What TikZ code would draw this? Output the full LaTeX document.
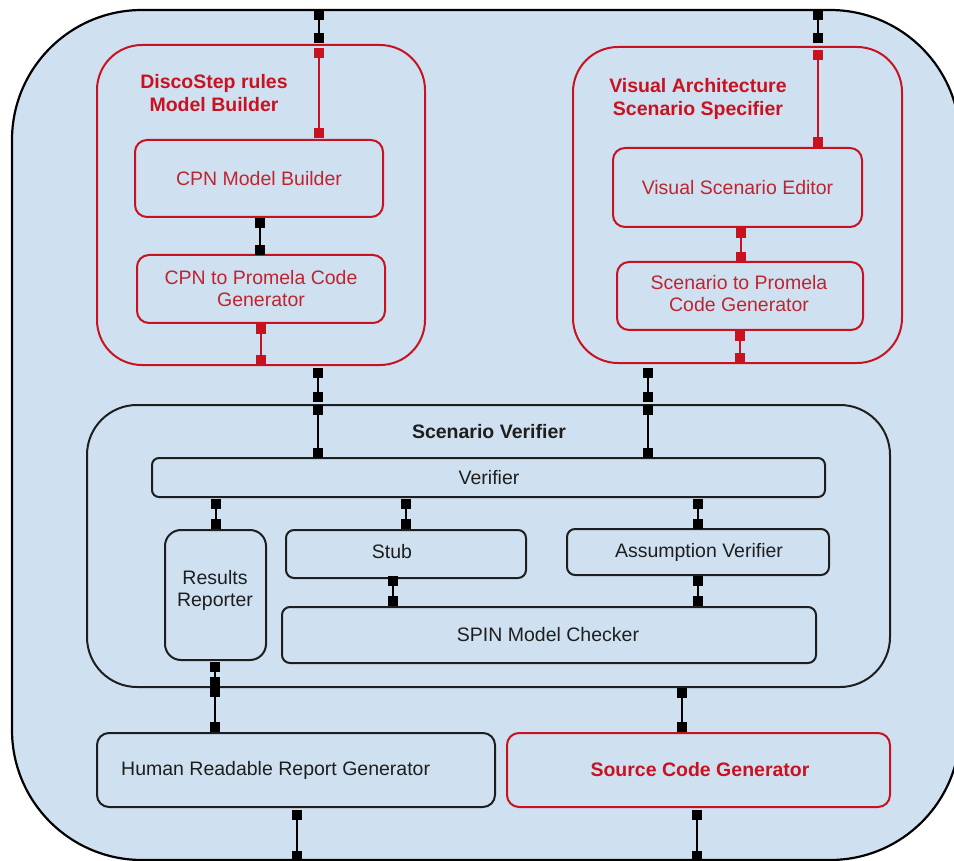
\documentclass[tikz,border=0pt]{standalone}
\usepackage{fontspec}
\setmainfont{Liberation Sans}
\definecolor{bgblue}{RGB}{207,225,241}
\definecolor{redc}{RGB}{200,18,32}
\definecolor{redtxt}{RGB}{190,36,48}
\definecolor{inkc}{RGB}{30,30,30}
\begin{document}
\begin{tikzpicture}[x=1pt,y=-1pt,
  txt/.style={font=\fontsize{19.5}{22}\selectfont, text=inkc, align=center, inner sep=0pt},
  rtxt/.style={txt, text=redtxt},
  btitle/.style={font=\fontsize{19.5}{22.5}\selectfont\bfseries, text=inkc, align=center, inner sep=0pt},
  rtitle/.style={btitle, text=redc},
  box/.style={draw=inkc, line width=2pt, rounded corners=#1, inner sep=0pt},
  box/.default=10pt,
  rbox/.style={box=#1, draw=redc},
  rbox/.default=10pt,
  port/.style={fill=black, draw=none, minimum size=10pt, inner sep=0pt},
  rport/.style={port, fill=redc},
  wire/.style={draw=black, line width=2pt},
  rwire/.style={draw=redc, line width=2pt}
]
\useasboundingbox (0,0) rectangle (954,861);
\fill[white] (0,0) rectangle (954,861);

% enclosing system
\node[box=130pt, fill=bgblue, line width=2.2pt, draw=black, minimum width=948pt, minimum height=850pt] (sys) at (486,435) {};

% DiscoStep rules model builder
\node[rbox=45pt, minimum width=328pt, minimum height=320pt] (ds) at (261,205) {};
\node[rtitle] (dstitle) at (214,93) {DiscoStep rules\\Model Builder};
\node[rbox=12pt, minimum width=248pt, minimum height=77pt] (cpnmb) at (259,178.5) {};
\node[rtxt] at (cpnmb.center) {CPN Model Builder};
\node[rbox=12pt, minimum width=248pt, minimum height=68pt] (cpnpro) at (261,289) {};
\node[rtxt] at (cpnpro.center) {CPN to Promela Code\\Generator};

% Visual architecture scenario specifier
\node[rbox=45pt, minimum width=329pt, minimum height=316pt] (vas) at (737.5,205) {};
\node[rtitle] (vastitle) at (698,99) {Visual Architecture\\Scenario Specifier};
\node[rbox=12pt, minimum width=249pt, minimum height=79pt] (vse) at (737.5,187.5) {};
\node[rtxt] at (vse.center) {Visual Scenario Editor};
\node[rbox=12pt, minimum width=246pt, minimum height=68pt] (scpro) at (740,296) {};
\node[rtxt] at (739,294) {Scenario to Promela\\Code Generator};

% Scenario verifier
\node[box=50pt, minimum width=803pt, minimum height=282pt] (sv) at (488.5,546) {};
\node[btitle] (svtitle) at (489,432) {Scenario Verifier};
\node[box=7pt, minimum width=673pt, minimum height=39pt] (ver) at (488.5,477.5) {};
\node[txt] at (489,478) {Verifier};
\node[box=16pt, minimum width=101pt, minimum height=130pt] (rr) at (215.5,595) {};
\node[txt] at (215,590) {Results\\Reporter};
\node[box=8pt, minimum width=240pt, minimum height=48pt] (stub) at (406,554) {};
\node[txt] (stubtxt) at (392,552) {Stub};
\node[box=8pt, minimum width=262pt, minimum height=46pt] (av) at (698,552) {};
\node[txt] at (699,552) {Assumption Verifier};
\node[box=8pt, minimum width=534pt, minimum height=56pt] (spin) at (549,635) {};
\node[txt] at (548,635) {SPIN Model Checker};

% generators
\node[box=12pt, minimum width=398pt, minimum height=74pt] (hrrg) at (296,770) {};
\node[txt, anchor=west] (hrrgtxt) at (121,770) {Human Readable Report Generator};
\node[rbox=12pt, minimum width=383pt, minimum height=74pt] (scg) at (698.5,770) {};
\node[rtitle] at (700,770) {Source Code Generator};

% ports, left chain
\node[port] (a1) at (319,15) {};
\node[port] (a2) at (319,38) {};
\node[rport] (a3) at (319,53) {};
\node[rport] (a4) at (319,133) {};
\node[port] (a5) at (260,223) {};
\node[port] (a6) at (260,250) {};
\node[rport] (a7) at (261,329) {};
\node[rport] (a8) at (261,360) {};
\node[port] (a9) at (318,373) {};
\node[port] (a10) at (318,397) {};
\node[port] (a11) at (318,410) {};
\node[port] (a12) at (318,453) {};

% ports, right chain
\node[port] (b1) at (818,15) {};
\node[port] (b2) at (818,38) {};
\node[rport] (b3) at (818,55) {};
\node[rport] (b4) at (818,142) {};
\node[rport] (b5) at (741,233) {};
\node[rport] (b6) at (741,257) {};
\node[rport] (b7) at (740,336) {};
\node[rport] (b8) at (740,358) {};
\node[port] (b9) at (648,373) {};
\node[port] (b10) at (648,397) {};
\node[port] (b11) at (648,410) {};
\node[port] (b12) at (648,453) {};

% ports inside the verifier
\node[port] (c1) at (216,504) {};
\node[port] (c2) at (216,524) {};
\node[port] (c3) at (406,504) {};
\node[port] (c4) at (406,524) {};
\node[port] (c5) at (698,504) {};
\node[port] (c6) at (698,524) {};
\node[port] (d1) at (393,581) {};
\node[port] (d2) at (393,601) {};
\node[port] (d3) at (698,581) {};
\node[port] (d4) at (698,601) {};

% ports towards the generators
\node[port] (e1) at (215,667) {};
\node[port] (e2) at (215,682) {};
\node[port] (e3) at (215,692) {};
\node[port] (e4) at (215,727) {};
\node[port] (f1) at (682,693) {};
\node[port] (f2) at (682,727) {};
\node[port] (g1) at (297,815) {};
\node[port] (g2) at (297,856) {};
\node[port] (g3) at (697,815) {};
\node[port] (g4) at (697,856) {};

% connectors
\draw[wire] (a1) -- (a2);
\draw[rwire] (a3) -- (a4);
\draw[wire] (a5) -- (a6);
\draw[rwire] (a7) -- (a8);
\draw[wire] (a9) -- (a10);
\draw[wire] (a11) -- (a12);
\draw[wire] (b1) -- (b2);
\draw[rwire] (b3) -- (b4);
\draw[rwire] (b5) -- (b6);
\draw[rwire] (b7) -- (b8);
\draw[wire] (b9) -- (b10);
\draw[wire] (b11) -- (b12);
\draw[wire] (c1) -- (c2);
\draw[wire] (c3) -- (c4);
\draw[wire] (c5) -- (c6);
\draw[wire] (d1) -- (d2);
\draw[wire] (d3) -- (d4);
\draw[wire] (e1) -- (e2);
\draw[wire] (e3) -- (e4);
\draw[wire] (f1) -- (f2);
\draw[wire] (g1) -- (g2);
\draw[wire] (g3) -- (g4);
\end{tikzpicture}
\end{document}
